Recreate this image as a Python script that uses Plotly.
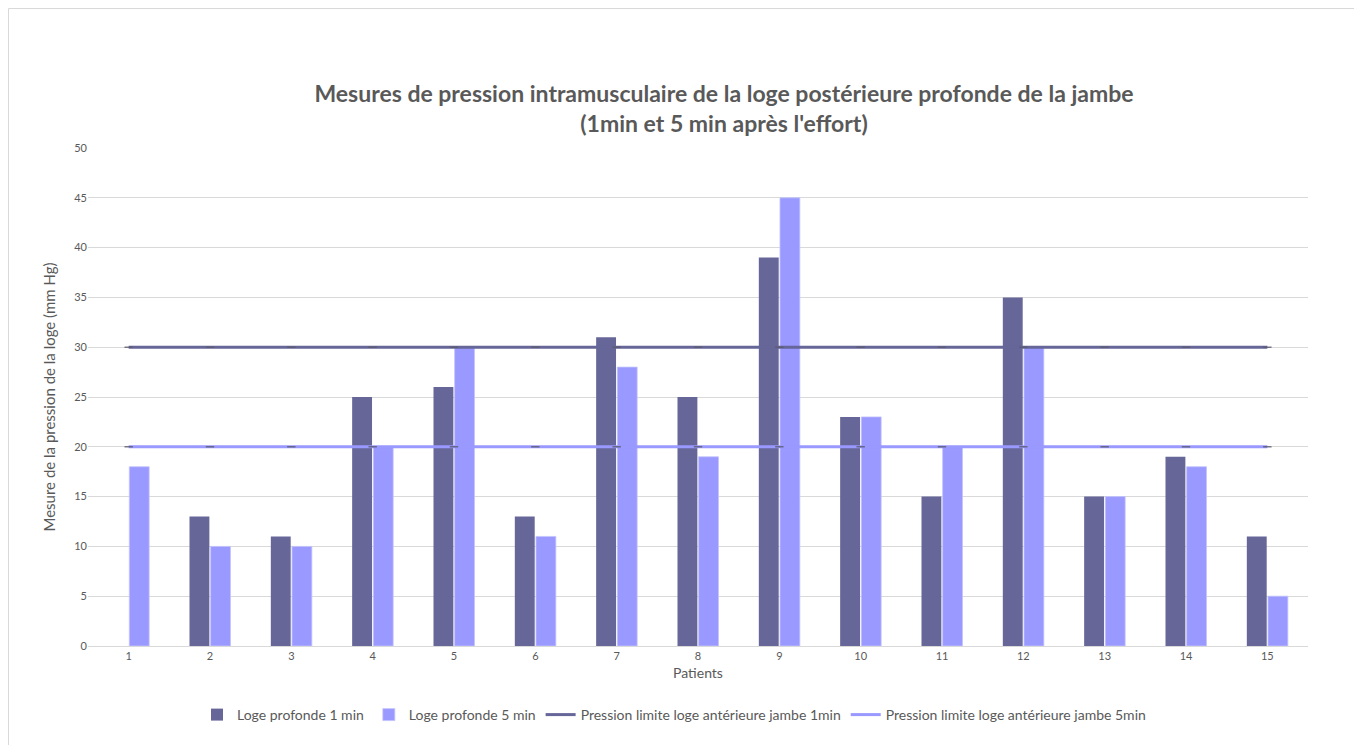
import plotly.graph_objects as go

patients = [str(i) for i in range(1, 16)]
loge_1min = [0, 13, 11, 25, 26, 13, 31, 25, 39, 23, 15, 35, 15, 19, 11]
loge_5min = [18, 10, 10, 20, 30, 11, 28, 19, 45, 23, 20, 30, 15, 18, 5]
limite_1min = [30] * 15
limite_5min = [20] * 15

DARK = "#666699"
LIGHT = "#9999ff"
TXT = "#595959"
FONT = "Lato, Open Sans, sans-serif"

# the page adds an 8px body margin, so the figure sits at (8, 8) on screen
OFF = 8
W, H = 1347, 737
L, T = 88 - OFF, 148 - OFF
pw, ph = 1220, 498
R = W - L - pw
B = H - T - ph


def px_x(sx):
    return (sx - OFF - L) / pw


def px_y(sy):
    return (T + ph - (sy - OFF)) / ph


fig = go.Figure()
fig.add_trace(go.Bar(
    x=patients, y=loge_1min, name="Loge profonde 1 min",
    marker=dict(color=DARK, line=dict(width=0)),
))
fig.add_trace(go.Bar(
    x=patients, y=loge_5min, name="Loge profonde 5 min",
    marker=dict(color=LIGHT, line=dict(color="#c4c4ff", width=0.8)),
))
fig.add_trace(go.Scatter(
    x=patients, y=limite_1min, mode="lines",
    name="Pression limite loge antérieure jambe 1min",
    line=dict(color=DARK, width=3),
))
fig.add_trace(go.Scatter(
    x=patients, y=limite_5min, mode="lines",
    name="Pression limite loge antérieure jambe 5min",
    line=dict(color=LIGHT, width=3),
))
# small marks Excel draws on each point of the limit lines
for vals in (limite_1min, limite_5min):
    fig.add_trace(go.Scatter(
        x=patients, y=vals, mode="markers", showlegend=False, hoverinfo="skip",
        marker=dict(symbol="line-ew", size=6, line=dict(color="#5a5a6e", width=1.2)),
    ))

# chart frame
fig.add_shape(
    type="rect", xref="paper", yref="paper", layer="below",
    x0=px_x(8.5), x1=px_x(1355), y0=px_y(760), y1=px_y(8.5),
    line=dict(color="#d9d9d9", width=1), fillcolor="rgba(0,0,0,0)",
)

fig.update_layout(
    width=W, height=H,
    margin=dict(l=L, r=R, t=T, b=B, autoexpand=False),
    paper_bgcolor="white", plot_bgcolor="white",
    font=dict(family=FONT, color=TXT, size=11),
    title=dict(
        text="Mesures de pression intramusculaire de la loge postérieure profonde de la jambe<br>(1min et 5 min après l'effort)",
        x=(724 - OFF) / W, xanchor="center", xref="container",
        y=1 - (102 - OFF) / H, yanchor="middle", yref="container",
        font=dict(family=FONT, size=23, color=TXT, weight="bold"),
    ),
    barmode="group", bargap=0.48, bargroupgap=0.06,
    showlegend=True,
    legend=dict(
        orientation="h", x=px_x(674), xanchor="center", xref="paper",
        y=px_y(715), yanchor="middle", yref="paper",
        font=dict(size=14, color=TXT),
        traceorder="normal", bgcolor="rgba(0,0,0,0)",
    ),
)
fig.update_xaxes(
    type="category", range=[-0.5, 14.5], autorange=False,
    showgrid=False, showline=True, linecolor="#d9d9d9", linewidth=1,
    ticks="", tickfont=dict(size=11, color=TXT),
    title=dict(text="Patients", font=dict(size=14, color=TXT), standoff=6),
)
fig.update_yaxes(
    range=[0, 50], dtick=5, showgrid=True, gridcolor="#d9d9d9", gridwidth=1,
    zeroline=False, showline=False, ticks="", tickfont=dict(size=11, color=TXT),
    title=dict(text="Mesure de la pression de la loge (mm Hg)", font=dict(size=15, color=TXT), standoff=14),
)

fig.write_html("out.html")
